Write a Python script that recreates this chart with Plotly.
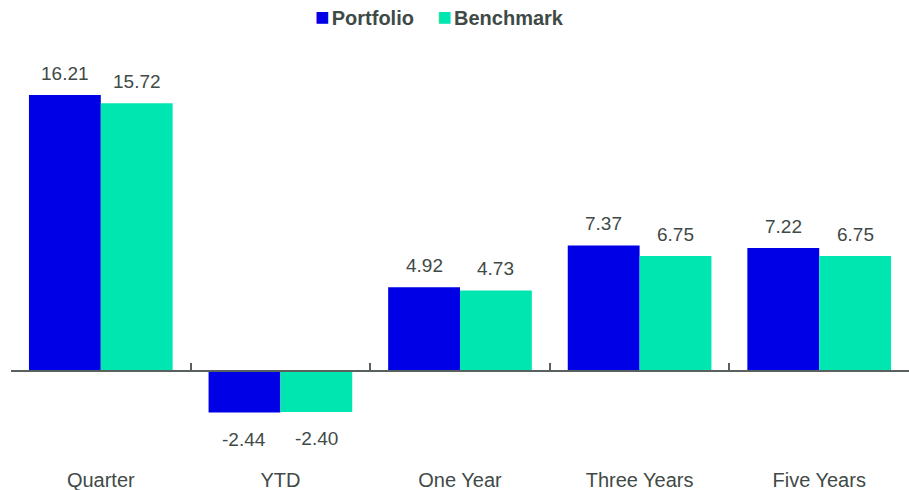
import plotly.graph_objects as go

categories = ["Quarter", "YTD", "One Year", "Three Years", "Five Years"]
portfolio = [16.21, -2.44, 4.92, 7.37, 7.22]
benchmark = [15.72, -2.40, 4.73, 6.75, 6.75]
series_names = ["Portfolio", "Benchmark"]
colors = ["#0000E6", "#00E6B0"]

FONT = "Liberation Sans, Arial, sans-serif"
TEXT_COLOR = "#3F4A47"
AXIS_COLOR = "#59615F"

ymin, ymax = -5.34, 19.44

fig = go.Figure()
for name, vals, col in zip(series_names, [portfolio, benchmark], colors):
    fig.add_trace(go.Bar(x=categories, y=vals, name=name, marker_color=col,
                         marker_line_width=0, showlegend=False))

annotations = []
offsets = [-0.2, 0.2]
for vals, off in zip([portfolio, benchmark], offsets):
    for i, v in enumerate(vals):
        annotations.append(dict(
            x=i + off, y=v, xref="x", yref="y", text=f"{v:.2f}",
            showarrow=False, yanchor="middle",
            yshift=22 if v >= 0 else -27,
            font=dict(family=FONT, size=19, color=TEXT_COLOR)))

# custom legend (square + bold name)
legend_text = "<span style='font-size:14px'>      </span>".join(
    f"<span style='color:{c};font-size:24px'>■</span>"
    f"<span style='font-size:8px'> </span><b>{n}</b>"
    for n, c in zip(series_names, colors))
annotations.append(dict(
    x=0.477, y=1.0, xref="paper", yref="paper", xanchor="center", yanchor="bottom",
    yshift=8, text=legend_text, showarrow=False,
    font=dict(family=FONT, size=20, color=TEXT_COLOR)))

zero_pos = -ymin / (ymax - ymin)

fig.update_layout(
    width=909, height=490,
    margin=dict(l=11, r=0, t=40, b=28),
    paper_bgcolor="white", plot_bgcolor="white",
    barmode="group", bargap=0.2, bargroupgap=0,
    showlegend=False,
    font=dict(family=FONT, size=19, color=TEXT_COLOR),
    xaxis=dict(type="category", range=[-0.5, 4.5], showline=False, ticks="",
               showgrid=False, tickfont=dict(family=FONT, size=20, color=TEXT_COLOR),
               ticklabelstandoff=4),
    xaxis2=dict(type="category", matches="x", overlaying="x", anchor="free",
                position=zero_pos, side="bottom", showline=True, linecolor=AXIS_COLOR,
                linewidth=2, ticks="inside", tickson="boundaries", ticklen=7,
                tickcolor=AXIS_COLOR, tickwidth=1.5, showticklabels=False, showgrid=False),
    yaxis=dict(range=[ymin, ymax], visible=False, showgrid=False, zeroline=False),
    annotations=annotations,
)
fig.add_trace(go.Scatter(x=categories, y=[None]*len(categories), xaxis="x2",
                         showlegend=False, hoverinfo="skip"))

fig.write_html("out.html", config={"displayModeBar": False},
               post_script="document.body.style.margin='0';")
